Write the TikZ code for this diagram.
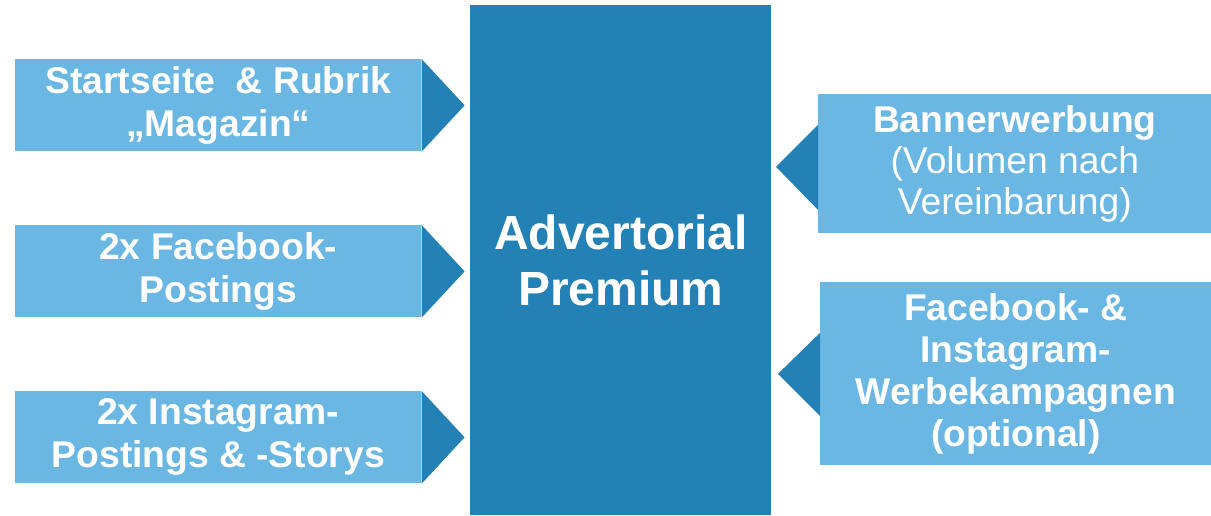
\documentclass[tikz,border=0pt]{standalone}
\usepackage{fontspec}
\setmainfont{Liberation Sans}
\usepackage{xcolor}
\usetikzlibrary{calc}
\definecolor{lightblue}{HTML}{6BB7E3}
\definecolor{darkblue}{HTML}{2481B5}

\begin{document}
\begin{tikzpicture}[x=0.02cm,y=-0.02cm,
    item/.style={fill=lightblue,text=white,anchor=north west,inner sep=0pt,align=center,
      font=\fontsize{21.2}{24.5}\selectfont\bfseries},
    pointer/.style={fill=darkblue}]
  \useasboundingbox (0,0) rectangle (1211,515);
  % centre block
  \node[fill=darkblue,text=white,anchor=north west,inner sep=0pt,align=center,
    minimum width=6.02cm,minimum height=10.2cm,
    font=\fontsize{27.3}{32.3}\selectfont\bfseries] (P) at (470,5) {Advertorial\\Premium};
  % left side
  \node[item,minimum width=8.12cm,minimum height=1.84cm] (A) at (15,59) {Startseite~~\& Rubrik\\„Magazin“};
  \node[item,minimum width=8.12cm,minimum height=1.84cm] (B) at (15,225) {2x Facebook-\\Postings};
  \node[item,minimum width=8.12cm,minimum height=1.84cm] (C) at (15,391) {2x Instagram-\\Postings \& -Storys};
  % right side
  \node[item,minimum width=7.86cm,minimum height=2.78cm,font=\fontsize{21.2}{23.5}\selectfont] (D) at (818,94)
    {\textbf{Bannerwerbung}\\(Volumen nach\\Vereinbarung)};
  \node[item,minimum width=7.82cm,minimum height=3.66cm,font=\fontsize{21.2}{23.8}\selectfont\bfseries] (E) at (820,282)
    {Facebook- \&\\Instagram-\\Werbekampagnen\\(optional)};
  % pointers
  \fill[pointer] (A.north east) -- ($(A.east)+(43,0)$) -- (A.south east) -- cycle;
  \fill[pointer] (B.north east) -- ($(B.east)+(43,0)$) -- (B.south east) -- cycle;
  \fill[pointer] (C.north east) -- ($(C.east)+(43,0)$) -- (C.south east) -- cycle;
  \fill[pointer] ($(D.west)+(0,-39)$) -- ($(D.west)+(-42,3)$) -- ($(D.west)+(0,46)$) -- cycle;
  \fill[pointer] ($(E.west)+(0,-41)$) -- ($(E.west)+(-42,0)$) -- ($(E.west)+(0,42)$) -- cycle;
\end{tikzpicture}
\end{document}
